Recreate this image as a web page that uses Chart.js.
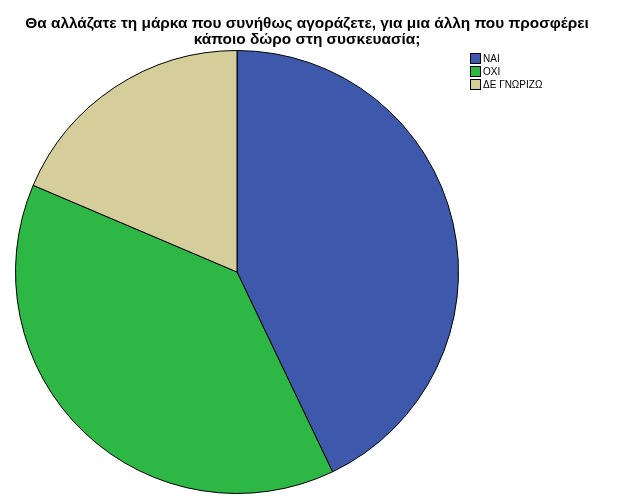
<!DOCTYPE html>
<html>
<head>
<meta charset="utf-8">
<script src="https://cdn.jsdelivr.net/npm/chart.js@4"></script>
<style>
  html, body { margin: 0; padding: 0; background: #fff; }
  #wrap { width: 626px; height: 501px; }
</style>
</head>
<body>
<div id="wrap"><canvas id="pie"></canvas></div>
<script>
const titleLines = ['Θα αλλάζατε τη μάρκα που συνήθως αγοράζετε, για μια άλλη που προσφέρει', 'κάποιο δώρο στη συσκευασία;'];
const categories = ['ΝΑΙ', 'ΟΧΙ', 'ΔΕ ΓΝΩΡΙΖΩ'];
const percents = [42.9, 38.5, 18.6];
const colors = ['#3e58ac', '#2db846', '#d5ce9a'];

// title + legend drawn on the canvas, SPSS style
const decor = {
  id: 'decor',
  afterDraw(chart) {
    const ctx = chart.ctx;
    ctx.save();
    ctx.fillStyle = '#000';
    ctx.textAlign = 'center';
    ctx.textBaseline = 'middle';
    ctx.font = 'bold 15.4px "Liberation Sans", Arial, sans-serif';
    titleLines.forEach((t, i) => ctx.fillText(t, 307, 24 + i * 16));

    ctx.textAlign = 'left';
    ctx.font = '10px "Liberation Sans", Arial, sans-serif';
    categories.forEach((c, i) => {
      const y = 54 + i * 13;
      ctx.fillStyle = colors[i];
      ctx.fillRect(471, y, 9, 9);
      ctx.strokeStyle = '#000';
      ctx.lineWidth = 1;
      ctx.strokeRect(470.5, y - 0.5, 10, 10);
      ctx.fillStyle = '#000';
      ctx.fillText(c, 483, y + 5);
    });
    ctx.restore();
  }
};

new Chart(document.getElementById('pie'), {
  type: 'pie',
  data: {
    labels: categories,
    datasets: [{
      data: percents,
      backgroundColor: colors,
      borderColor: '#000',
      borderWidth: 1,
    }],
  },
  options: {
    responsive: true,
    maintainAspectRatio: false,
    animation: false,
    layout: { padding: { left: 15, right: 167, top: 50, bottom: 7 } },
    plugins: {
      legend: { display: false },
      title: { display: false },
      tooltip: { enabled: false },
    },
  },
  plugins: [decor],
});
</script>
</body>
</html>
